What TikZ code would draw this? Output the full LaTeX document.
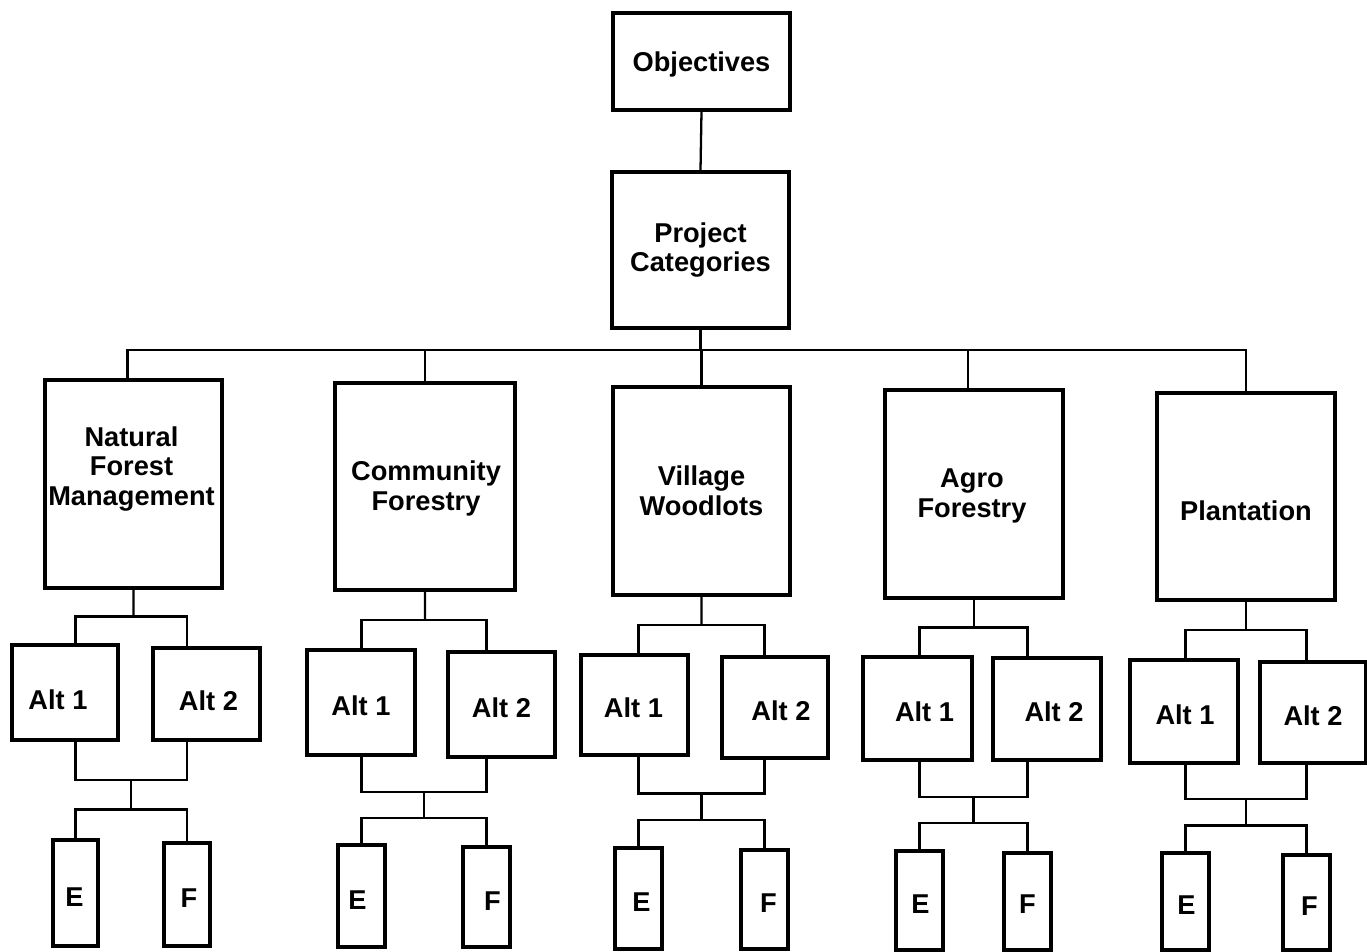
\documentclass[tikz,border=0pt]{standalone}
\usepackage{fontspec}
\setmainfont{Liberation Sans}
\usetikzlibrary{calc}
\tikzset{
  box/.style={draw=black, line width=1.8pt, fill=white, inner sep=0pt},
  txt/.style={align=center, inner sep=0pt, font=\fontsize{15.5}{17}\selectfont\bfseries},
  ln/.style={draw=black, line width=1.3pt}
}
% \bx[dx,dy]{name}{x1}{y1}{x2}{y2}{text}  (pixel coordinates, y downwards)
\newcommand\bx[7][0,0]{%
  \node[box, minimum width={(#5-#3)*0.02cm}, minimum height={(#6-#4)*0.02cm}]
    (#2) at ({(#3+#5)/2},{(#4+#6)/2}) {};
  \node[txt] (#2-t) at ($(#2.center)+(#1)$) {#7};}
\newcommand\grp[5]{%
  \path ($(#1.south)!0.5!(#1.south |- #2.north)$) coordinate (j1);
  \draw[ln] (#1.south) -- (j1);
  \draw[ln] (#4.north |- #2.north) |- (j1) -| (#5.north |- #3.north);
  \path ($(#4.north |- #2.south)!0.5!(#5.north |- #3.south)$) coordinate (m);
  \path ($(m)!0.4!(m |- #4.north)$) coordinate (j2);
  \path ($(m)!0.7!(m |- #4.north)$) coordinate (j3);
  \draw[ln] (#4.north |- #2.south) |- (j2) -| (#5.north |- #3.south);
  \draw[ln] (j2) -- (j3);
  \draw[ln] (#4.north) |- (j3) -| (#5.north);
}
\begin{document}
\begin{tikzpicture}[x=0.02cm, y=-0.02cm]
\useasboundingbox (0,0) rectangle (1367,952);
\fill[white] (0,0) rectangle (1367,952);
% top
\bx[0,3]{obj}{613}{13}{790}{110}{Objectives}
\bx{pc}{612}{172}{789}{328}{Project\\Categories}
% categories
\bx[-2,-15]{nfm}{45}{380}{222}{588}{Natural\\Forest\\Management}
\bx[1,2]{cf}{335}{383}{515}{590}{Community\\Forestry}
\bx{vw}{613}{387}{790}{595}{Village\\Woodlots}
\bx[-2,2]{af}{885}{390}{1063}{598}{Agro\\Forestry}
\bx[0,14]{pl}{1157}{393}{1335}{600}{Plantation}
% alternatives
\bx[-7,7]{nfmA}{12}{645}{118}{740}{Alt 1}
\bx[2,7]{nfmB}{153}{648}{260}{740}{Alt 2}
\bx[0,3]{cfA}{307}{650}{415}{755}{Alt 1}
\bx[0,3]{cfB}{448}{652}{555}{757}{Alt 2}
\bx[-1,3]{vwA}{581}{655}{688}{755}{Alt 1}
\bx[6,3]{vwB}{722}{657}{828}{758}{Alt 2}
\bx[7,3]{afA}{863}{657}{972}{760}{Alt 1}
\bx[7,3]{afB}{993}{658}{1101}{760}{Alt 2}
\bx[1,3]{plA}{1130}{660}{1238}{763}{Alt 1}
\bx[0,3]{plB}{1260}{662}{1366}{763}{Alt 2}
% E / F
\bx[-1,4]{nfmE}{53}{840}{98}{946}{E}
\bx[2,4]{nfmF}{164}{843}{210}{946}{F}
\bx[-4,4]{cfE}{338}{845}{385}{947}{E}
\bx[6,4]{cfF}{463}{847}{510}{947}{F}
\bx[3,4]{vwE}{615}{848}{662}{949}{E}
\bx[4,4]{vwF}{741}{850}{788}{949}{F}
\bx[1,4]{afE}{896}{851}{943}{950}{E}
\bx[0,3]{afF}{1004}{853}{1051}{950}{F}
\bx[1,4]{plE}{1162}{853}{1209}{950}{E}
\bx[3,4]{plF}{1283}{855}{1330}{950}{F}
% connectors
\draw[ln] (obj.south) -- (pc.north);
\coordinate (bus) at (0,350);
\draw[ln] (pc.south) -- (pc.south |- bus);
\draw[ln] ($(nfm.north)+(-6,0)$) -- ($(nfm.north |- bus)+(-6,0)$) -- (pl.north |- bus) -- (pl.north);
\draw[ln] (cf.north) -- (cf.north |- bus);
\draw[ln] (vw.north) -- (vw.north |- bus);
\draw[ln] ($(af.north)+(-6,0)$) -- ($(af.north |- bus)+(-6,0)$);
\grp{nfm}{nfmA}{nfmB}{nfmE}{nfmF}
\grp{cf}{cfA}{cfB}{cfE}{cfF}
\grp{vw}{vwA}{vwB}{vwE}{vwF}
\grp{af}{afA}{afB}{afE}{afF}
\grp{pl}{plA}{plB}{plE}{plF}
\end{tikzpicture}
\end{document}
